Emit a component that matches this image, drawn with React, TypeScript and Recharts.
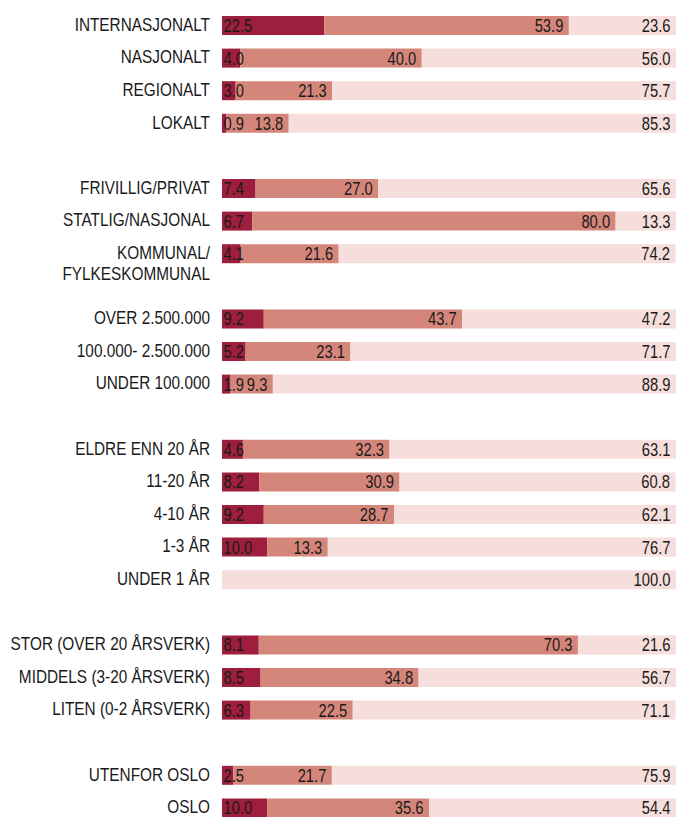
import React from 'react';
import { BarChart, Bar, XAxis, YAxis, LabelList } from 'recharts';

const categories = [
  'INTERNASJONALT', 'NASJONALT', 'REGIONALT', 'LOKALT', '',
  'FRIVILLIG/PRIVAT', 'STATLIG/NASJONAL', 'KOMMUNAL/\nFYLKESKOMMUNAL', '',
  'OVER 2.500.000', '100.000- 2.500.000', 'UNDER 100.000', '',
  'ELDRE ENN 20 ÅR', '11-20 ÅR', '4-10 ÅR', '1-3 ÅR', 'UNDER 1 ÅR', '',
  'STOR (OVER 20 ÅRSVERK)', 'MIDDELS (3-20 ÅRSVERK)', 'LITEN (0-2 ÅRSVERK)', '',
  'UTENFOR OSLO', 'OSLO',
];

const darkValues = [
  22.5, 4.0, 3.0, 0.9, null,
  7.4, 6.7, 4.1, null,
  9.2, 5.2, 1.9, null,
  4.6, 8.2, 9.2, 10.0, 0, null,
  8.1, 8.5, 6.3, null,
  2.5, 10.0,
];

const midValues = [
  53.9, 40.0, 21.3, 13.8, null,
  27.0, 80.0, 21.6, null,
  43.7, 23.1, 9.3, null,
  32.3, 30.9, 28.7, 13.3, 0, null,
  70.3, 34.8, 22.5, null,
  21.7, 35.6,
];

const lightValues = [
  23.6, 56.0, 75.7, 85.3, null,
  65.6, 13.3, 74.2, null,
  47.2, 71.7, 88.9, null,
  63.1, 60.8, 62.1, 76.7, 100.0, null,
  21.6, 56.7, 71.1, null,
  75.9, 54.4,
];

const data = categories.map((name, i) => ({
  id: `row${i}`,
  name,
  dark: darkValues[i],
  mid: midValues[i],
  light: lightValues[i],
}));

// Arial Narrow look: Liberation Sans squeezed horizontally
const FONT = "'Liberation Sans', Arial, sans-serif";
const SQUEEZE = 0.82;

const CategoryTick = (props: any) => {
  const { x, y, payload } = props;
  const row = data.find((d) => d.id === payload.value);
  if (!row || !row.name) return null;
  const lines = row.name.split('\n');
  return (
    <g transform={`translate(${x},${y}) scale(0.83,1)`}>
      <text x={0} y={0} textAnchor="end" fontFamily={FONT} fontSize={18.5} fill="#1a1a1a">
        {lines.map((line, i) => (
          <tspan key={i} x={0} dy={i === 0 ? 5.5 : 21.5}>{line}</tspan>
        ))}
      </text>
    </g>
  );
};

const makeLabel = (align: 'left' | 'right') => (props: any) => {
  const { x, y, width, height, value } = props;
  if (value == null || value === 0) return null;
  const tx = align === 'left' ? x + 1.5 : x + width - 5.5;
  return (
    <g transform={`translate(${tx},${y + height / 2 + 6.5}) scale(${SQUEEZE},1)`}>
      <text
        x={0}
        y={0}
        textAnchor={align === 'left' ? 'start' : 'end'}
        fontFamily={FONT}
        fontSize={18}
        fill="#1a1a1a"
      >
        {Number(value).toFixed(1)}
      </text>
    </g>
  );
};

export default function App() {
  return (
    <div style={{ position: 'absolute', left: 0, top: 0, width: 677, background: '#fff' }}>
      <BarChart
        width={677}
        height={824}
        data={data}
        layout="vertical"
        margin={{ top: 9, right: 1, left: 0, bottom: 0 }}
        barSize={19}
      >
        <XAxis type="number" domain={[0, 100]} allowDataOverflow hide />
        <YAxis
          type="category"
          dataKey="id"
          width={222}
          axisLine={false}
          tickLine={false}
          tickSize={0}
          tickMargin={12}
          interval={0}
          tick={<CategoryTick />}
        />
        <Bar dataKey="dark" stackId="a" fill="#9D1E3D" isAnimationActive={false}>
          <LabelList dataKey="dark" content={makeLabel('left')} />
        </Bar>
        <Bar dataKey="mid" stackId="a" fill="#D5867A" isAnimationActive={false}>
          <LabelList dataKey="mid" content={makeLabel('right')} />
        </Bar>
        <Bar dataKey="light" stackId="a" fill="#F5DEDC" isAnimationActive={false}>
          <LabelList dataKey="light" content={makeLabel('right')} />
        </Bar>
      </BarChart>
    </div>
  );
}
